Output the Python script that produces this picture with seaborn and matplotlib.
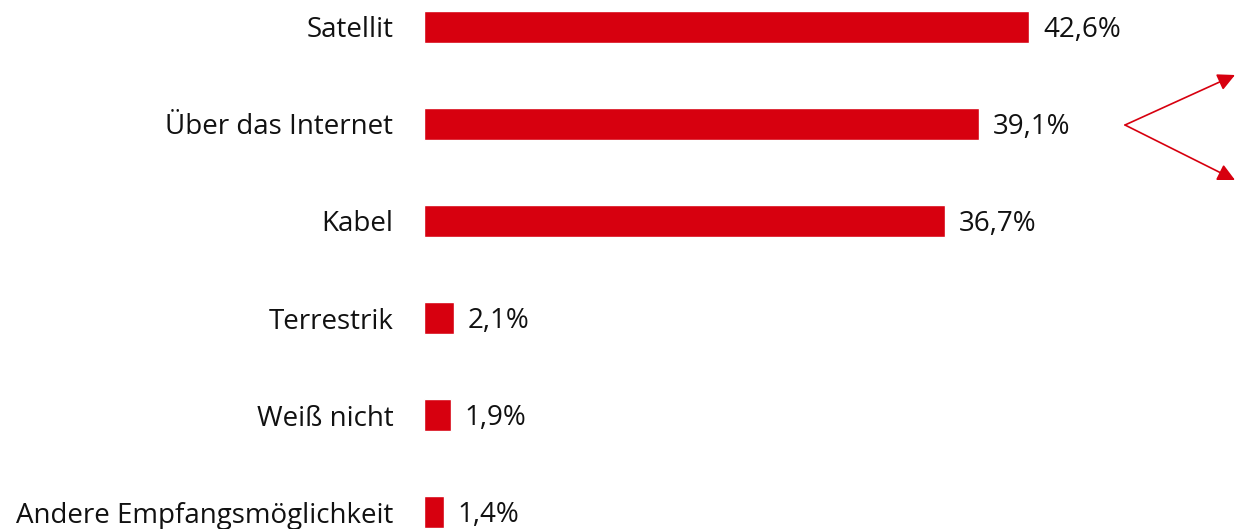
import pandas as pd
import matplotlib
matplotlib.use("Agg")
import matplotlib.pyplot as plt
import seaborn as sns

categories = ["Satellit", "Über das Internet", "Kabel", "Terrestrik",
              "Weiß nicht", "Andere Empfangsmöglichkeit"]
values = [42.6, 39.1, 36.7, 2.1, 1.9, 1.4]
labels = ["42,6%", "39,1%", "36,7%", "2,1%", "1,9%", "1,4%"]

df = pd.DataFrame({"Kategorie": categories, "Anteil": values})

sns.set_style("white")
plt.rcParams['font.family'] = ['Open Sans', 'DejaVu Sans']

fig = plt.figure(figsize=(12.35, 5.29), dpi=100)
ax = fig.add_axes([424 / 1235, 0, 811 / 1235, 1])

sns.barplot(data=df, x="Anteil", y="Kategorie", color="#D7000F",
            saturation=1, width=0.33, ax=ax)

ax.set_xlim(0, 57.1)
ax.set_ylim(5.175, -0.278)
ax.set_xlabel("")
ax.set_ylabel("")
ax.set_xticks([])
sns.despine(ax=ax, left=True, bottom=True)
ax.tick_params(axis="y", length=0, pad=22, labelsize=20, labelcolor="#111111")

for i, (v, t) in enumerate(zip(values, labels)):
    ax.annotate(t, (v, i), xytext=(10, -2.5), textcoords="offset points",
                va="center", ha="left", fontsize=20, color="#111111")

# Pfeile rechts
start = (1125 / 1235, 1 - 125 / 529)
for end in [(1235 / 1235, 1 - 75 / 529), (1235 / 1235, 1 - 180 / 529)]:
    fig.add_artist(matplotlib.patches.FancyArrowPatch(
        start, end, transform=fig.transFigure, arrowstyle="-|>",
        mutation_scale=26, color="#D7000F", lw=1.2, shrinkA=0, shrinkB=0))

plt.savefig("out.png", dpi=100)
